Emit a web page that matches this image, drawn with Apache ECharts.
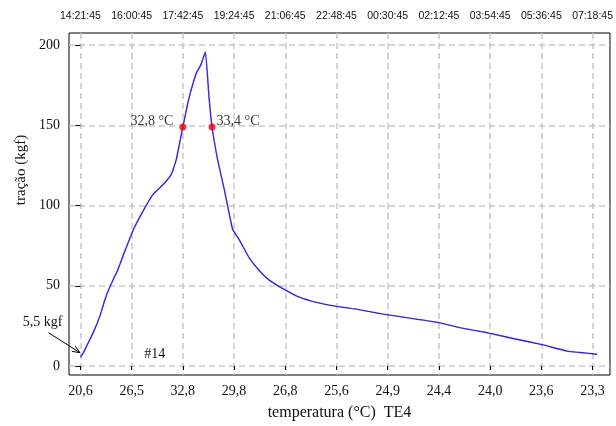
<!DOCTYPE html>
<html>
<head>
<meta charset="utf-8">
<script src="https://cdn.jsdelivr.net/npm/echarts@6/dist/echarts.min.js"></script>
<style>
html,body{margin:0;padding:0;background:#fff}
#chart{width:616px;height:426px}
</style>
</head>
<body>
<div id="chart"></div>
<script>
// Tick labels, one per tick index 0..10: temperature (bottom) and clock time (top)
const tempLabels = ['20,6','26,5','32,8','29,8','26,8','25,6','24,9','24,4','24,0','23,6','23,3'];
const timeLabels = ['14:21:45','16:00:45','17:42:45','19:24:45','21:06:45','22:48:45','00:30:45','02:12:45','03:54:45','05:36:45','07:18:45'];
const tickIndex = [0,1,2,3,4,5,6,7,8,9,10];
const forceTicks = [0,50,100,150,200];

// Traction curve: position along the tick index and force (kgf)
const curvePos = [0.00,0.06,0.12,0.25,0.38,0.48,0.57,0.73,0.86,1.04,1.22,1.41,1.61,1.77,1.87,2.00,2.11,2.26,2.35,2.44,2.51,2.57,2.68,2.81,2.97,3.10,3.29,3.49,3.68,3.97,4.26,4.59,4.97,5.36,5.88,6.40,6.92,7.43,7.95,8.47,8.99,9.50,9.76,10.09];
const curveForce = [5.5,8.3,12.4,20.8,31.1,41.5,49.0,60.0,71.0,85.4,96.4,106.7,113.0,119.2,128.5,149.0,165.8,182.4,187.6,195.8,167.9,149.0,128.5,109.9,85.4,78.8,67.8,59.5,53.7,47.9,43.1,39.8,37.3,35.6,32.5,30.0,27.5,23.8,20.7,17.0,13.5,9.3,8.4,7.3];

// Points where the curve crosses 150 kgf
const markPos = [2.00, 2.57];
const markForce = [149, 149];
const markLabels = ['32,8 °C', '33,4 °C'];

// Minimum-force note and sample id
const minNote = '5,5 kgf';
const minPoint = [0.00, 5.5];
const sampleId = '#14';

const serif = '"Liberation Serif", "Times New Roman", serif';
const textColor = '#111';
const gridDash = {color: '#c8c8c8', width: 1.5, type: [6, 4]};

const chart = echarts.init(document.getElementById('chart'), null, {renderer: 'canvas'});

const curveData = curvePos.map((p, i) => [p, curveForce[i]]);

chart.setOption({
  animation: false,
  backgroundColor: '#fff',
  grid: {left: 69, right: 3, top: 33, bottom: 50, show: true, borderColor: '#000', borderWidth: 1, containLabel: false},
  xAxis: [{
    type: 'value', position: 'bottom', min: -0.223, max: 10.34,
    name: 'temperatura (°C)  TE4', nameLocation: 'middle', nameGap: 30,
    nameTextStyle: {fontFamily: serif, fontSize: 16, color: textColor},
    axisLine: {show: false},
    axisTick: {show: true, customValues: tickIndex, length: 4, inside: false, lineStyle: {color: '#000'}},
    axisLabel: {customValues: tickIndex, margin: 9, fontFamily: serif, fontSize: 14, color: textColor,
      formatter: v => tempLabels[Math.round(v)]},
    splitLine: {show: true, lineStyle: gridDash}
  }, {
    type: 'value', position: 'top', min: -0.223, max: 10.34,
    axisLine: {show: false},
    axisTick: {show: false, customValues: tickIndex},
    axisLabel: {customValues: tickIndex, margin: 11, fontFamily: '"Liberation Sans", Tahoma, sans-serif', fontSize: 10.5, color: textColor,
      formatter: v => timeLabels[Math.round(v)]},
    splitLine: {show: false}
  }],
  yAxis: {
    type: 'value', min: -5.6, max: 207.6,
    name: 'tração (kgf)', nameLocation: 'middle', nameGap: 33, nameRotate: 90,
    nameTextStyle: {fontFamily: serif, fontSize: 15, color: textColor, padding: [0, 0, 0, 68]},
    axisLine: {show: false},
    axisTick: {show: true, customValues: forceTicks, length: 5, lineStyle: {color: '#000'}},
    axisLabel: {customValues: forceTicks, margin: 9, fontFamily: serif, fontSize: 14, color: textColor},
    splitLine: {show: true, lineStyle: gridDash}
  },
  series: [{
    type: 'line', data: curveData, showSymbol: false, smooth: 0.12,
    lineStyle: {color: '#2222ff', width: 1.4}, z: 3
  }, {
    type: 'line', data: curveData, showSymbol: false, smooth: 0.12,
    lineStyle: {color: '#ff1a1a', width: 1, type: [1, 4]}, z: 4
  }, {
    type: 'scatter', symbolSize: 7, itemStyle: {color: '#ff0000'}, z: 5,
    data: [
      {value: [markPos[0], markForce[0]], label: {position: 'left', distance: 6, offset: [0, -6]}},
      {value: [markPos[1], markForce[1]], label: {position: 'right', distance: 1, offset: [0, -6]}}
    ],
    label: {show: true, fontFamily: serif, fontSize: 14, color: '#000',
      formatter: p => markLabels[p.dataIndex]}
  }]
});

// Annotations placed through the chart's own coordinate conversion
const toPx = pt => chart.convertToPixel({gridIndex: 0}, pt);
const noteCenter = toPx([-0.738, 27.2]);
const arrowFrom = toPx([-0.625, 20.8]);
const arrowTo = toPx([minPoint[0] - 0.01, minPoint[1] + 2.8]);
const idCenter = toPx([1.45, 7.3]);
const ang = Math.atan2(arrowTo[1] - arrowFrom[1], arrowTo[0] - arrowFrom[0]);
const head = 8, spread = 0.4;
const headA = [arrowTo[0] - head * Math.cos(ang - spread), arrowTo[1] - head * Math.sin(ang - spread)];
const headB = [arrowTo[0] - head * Math.cos(ang + spread), arrowTo[1] - head * Math.sin(ang + spread)];

chart.setOption({
  graphic: [
    {type: 'text', x: noteCenter[0], y: noteCenter[1], z: 10,
      style: {text: minNote, font: '14px ' + serif, fill: textColor, align: 'center', verticalAlign: 'middle'}},
    {type: 'line', z: 10, shape: {x1: arrowFrom[0], y1: arrowFrom[1], x2: arrowTo[0], y2: arrowTo[1]},
      style: {stroke: '#000', lineWidth: 1}},
    {type: 'polyline', z: 10, shape: {points: [headA, arrowTo, headB]},
      style: {stroke: '#000', lineWidth: 1, fill: null}},
    {type: 'text', x: idCenter[0], y: idCenter[1], z: 10,
      style: {text: sampleId, font: '14px ' + serif, fill: textColor, align: 'center', verticalAlign: 'middle'}}
  ]
});
</script>
</body>
</html>
